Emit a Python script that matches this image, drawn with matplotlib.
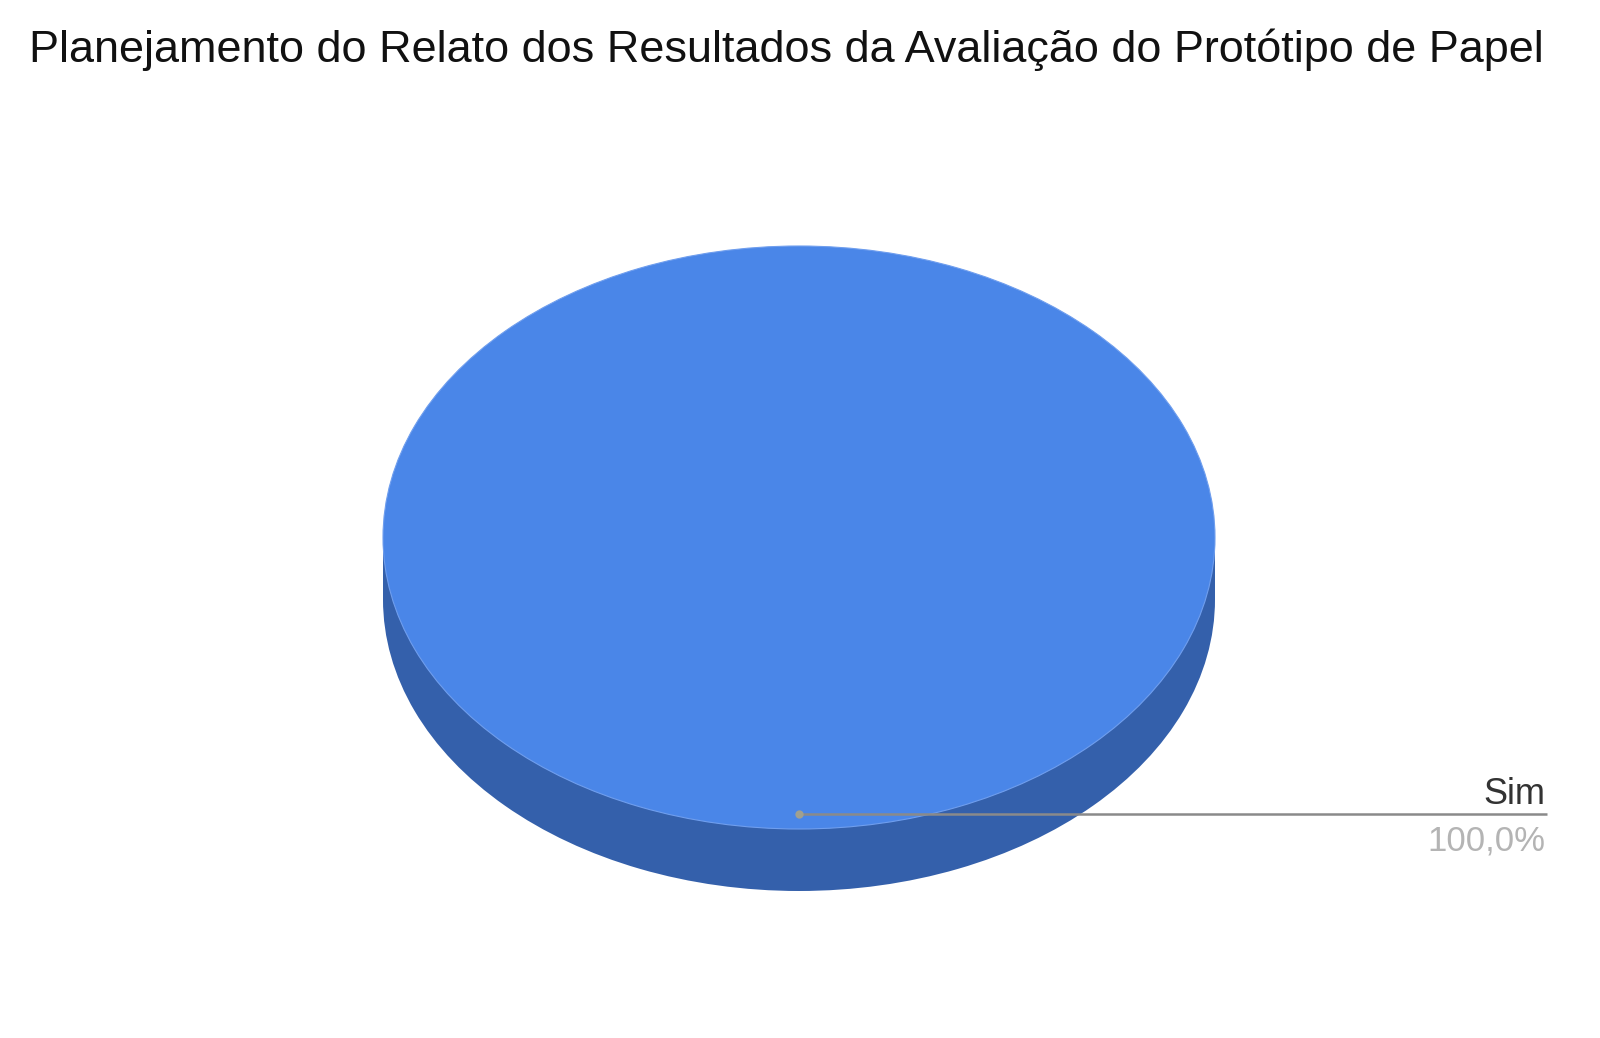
import matplotlib
matplotlib.use("Agg")
import matplotlib.pyplot as plt
from matplotlib.patches import Rectangle

title = "Planejamento do Relato dos Resultados da Avaliação do Protótipo de Papel"
categories = ["Sim"]
values = [100.0]
pct_labels = ["100,0%"]

top_color = "#4a86e8"
side_color = "#3460ab"

W, H = 1600, 1038
fig = plt.figure(figsize=(W / 100, H / 100), dpi=100)
fig.patch.set_facecolor("white")

# pie geometry in pixels
cx, cy = 799, 537.5
rx, ry = 416, 291.5
depth = 62
d = depth / ry

left = (cx - rx) / W
width = 2 * rx / W
top_px = cy - ry
bottom_px = cy + ry + depth
ax = fig.add_axes([left, 1 - bottom_px / H, width, (bottom_px - top_px) / H])

# side (extrusion)
ax.pie(values, colors=[side_color], center=(0, -d), radius=1, startangle=90,
       counterclock=False, wedgeprops=dict(linewidth=0))
ax.add_patch(Rectangle((-1, -d), 2, d, facecolor=side_color, edgecolor="none"))
# top face
ax.pie(values, colors=[top_color], center=(0, 0), radius=1, startangle=90,
       counterclock=False, wedgeprops=dict(linewidth=0.8, edgecolor="#6f9eee"))
ax.set_aspect("auto")
ax.set_xlim(-1, 1)
ax.set_ylim(-1 - d, 1)
ax.axis("off")

# leader line and labels
px = lambda x: (x - cx) / rx
py = lambda y: (cy - y) / ry
ax.plot([px(799), px(1547)], [py(814), py(814)], color="#8a8a8a", lw=1.8,
        clip_on=False, solid_capstyle="butt")
ax.plot([px(799)], [py(814)], marker="o", ms=6, color="#a0a090", mec="none",
        clip_on=False)
ax.text(px(1545), py(794), categories[0], ha="right", va="center",
        fontsize=26, color="#333333", family="Liberation Sans")
ax.text(px(1545), py(841), pct_labels[0], ha="right", va="center",
        fontsize=25, color="#b4b4b4", family="Liberation Sans")

fig.text(786 / W, 1 - 50 / H, title, ha="center", va="center",
         fontsize=32.4, color="#111111", family="Liberation Sans")

fig.savefig("out.png", dpi=100, facecolor="white")
